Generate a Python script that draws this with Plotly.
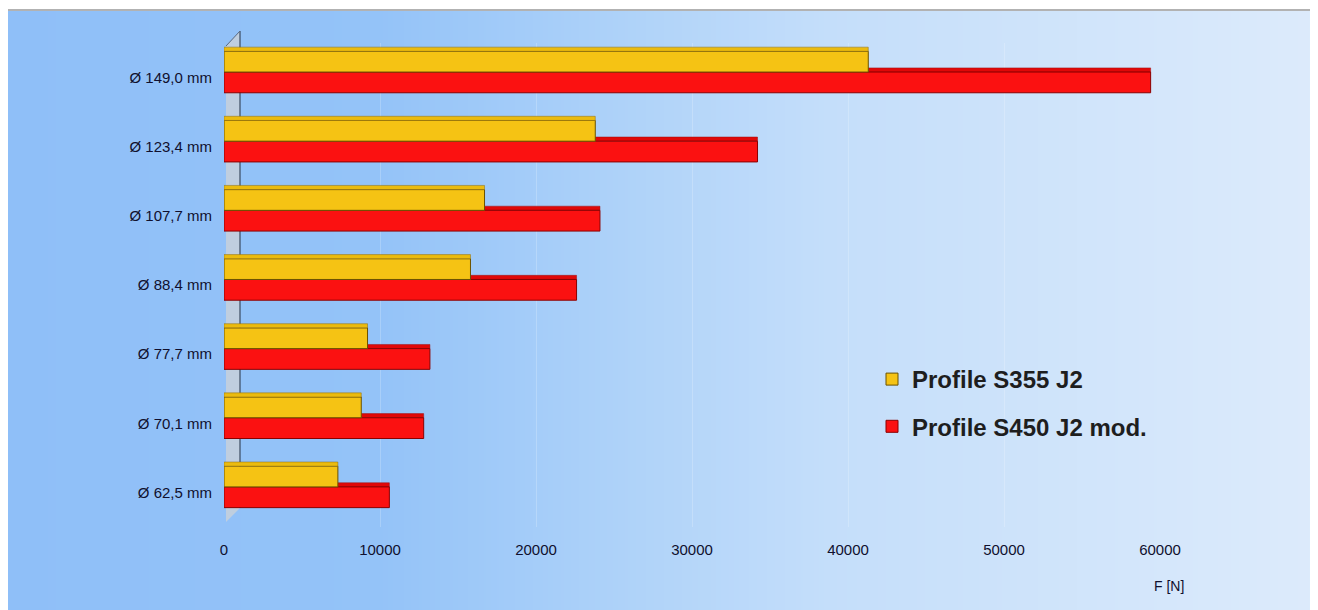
import base64
import struct
import zlib

import plotly.graph_objects as go

# ---------------- data ----------------
categories = ["Ø 62,5 mm", "Ø 70,1 mm", "Ø 77,7 mm", "Ø 88,4 mm",
              "Ø 107,7 mm", "Ø 123,4 mm", "Ø 149,0 mm"]
s355_values = [7300, 8800, 9200, 15800, 16700, 23800, 41300]
s450_values = [10600, 12800, 13200, 22600, 24100, 34200, 59400]
series_names = ["Profile S355 J2", "Profile S450 J2 mod."]
x_ticks = [0, 10000, 20000, 30000, 40000, 50000, 60000]
x_tick_labels = ["0", "10000", "20000", "30000", "40000", "50000", "60000"]
axis_title = "F [N]"

# ---------------- layout geometry ----------------
# the page body adds an 8px margin, so the figure is 8px smaller each way
W, H = 1310, 602
OFF = 8  # reference pixel -> figure pixel shift


def fx(px):
    return px - OFF


ML, MR, MT, MB = fx(224), W - fx(1160), fx(43), H - fx(527)
PW, PH = W - ML - MR, H - MT - MB


def px_to_paper_x(px):
    return (fx(px) - ML) / PW


def px_to_paper_y(py):
    return (H - MB - fx(py)) / PH


# ---------------- background gradient (PNG generated in memory) ----------------
grad_stops = [(0.0, (143, 191, 248)), (0.28, (148, 195, 248)),
              (0.45, (172, 209, 249)), (0.62, (196, 222, 250)),
              (1.0, (221, 235, 251))]


def grad_color(t):
    for (t0, c0), (t1, c1) in zip(grad_stops[:-1], grad_stops[1:]):
        if t0 <= t <= t1:
            f = (t - t0) / (t1 - t0)
            return tuple(int(round(a + (b - a) * f)) for a, b in zip(c0, c1))
    return grad_stops[-1][1]


def make_png(width):
    row = b"\x00" + b"".join(bytes(grad_color(i / (width - 1))) for i in range(width))
    raw = row * 2

    def chunk(tag, data):
        c = struct.pack(">I", len(data)) + tag + data
        return c + struct.pack(">I", zlib.crc32(tag + data) & 0xffffffff)

    png = b"\x89PNG\r\n\x1a\n"
    png += chunk(b"IHDR", struct.pack(">IIBBBBB", width, 2, 8, 2, 0, 0, 0))
    png += chunk(b"IDAT", zlib.compress(raw, 9))
    png += chunk(b"IEND", b"")
    return "data:image/png;base64," + base64.b64encode(png).decode()


bg_src = make_png(512)

# ---------------- figure ----------------
fig = go.Figure()

# red series: top face (mostly hidden behind the yellow bar) then front face
fig.add_trace(go.Bar(
    y=categories, x=s450_values, orientation="h", name=series_names[1] + " top",
    offset=0.08, width=0.06, showlegend=False, hoverinfo="skip",
    marker=dict(color="#e00808", line=dict(color="#9a1010", width=0.5)),
))
fig.add_trace(go.Bar(
    y=categories, x=s450_values, orientation="h", name=series_names[1],
    offset=-0.22, width=0.30,
    marker=dict(color="#fb1111", line=dict(color="#8a0000", width=1)),
    legendgroup="b", legendrank=2,
))
# yellow series: front face then top face
fig.add_trace(go.Bar(
    y=categories, x=s355_values, orientation="h", name=series_names[0],
    offset=0.08, width=0.30,
    marker=dict(color="#f5c314", line=dict(color="#6b5200", width=1)),
    legendgroup="a", legendrank=1,
))
fig.add_trace(go.Bar(
    y=categories, x=s355_values, orientation="h", name=series_names[0] + " top",
    offset=0.38, width=0.06, showlegend=False, hoverinfo="skip",
    marker=dict(color="#ebbb0e", line=dict(color="#8a6a10", width=0.5)),
))

fig.update_layout(
    width=W, height=H,
    margin=dict(l=ML, r=MR, t=MT, b=MB),
    paper_bgcolor="white",
    plot_bgcolor="rgba(0,0,0,0)",
    barmode="overlay",
    font=dict(family="Liberation Sans, Arial, sans-serif", color="#141433"),
    showlegend=True,
    legend=dict(
        x=px_to_paper_x(872), y=px_to_paper_y(357),
        xanchor="left", yanchor="top",
        bgcolor="rgba(0,0,0,0)",
        font=dict(size=24, family="Liberation Sans, Arial, sans-serif",
                  color="#1e1e1e", weight="bold"),
        tracegroupgap=13,
        traceorder="grouped",
    ),
    xaxis=dict(
        range=[0, 60000],
        tickvals=x_ticks, ticktext=x_tick_labels,
        showgrid=True, gridcolor="rgba(255,255,255,0.2)", gridwidth=1,
        zeroline=False, showline=False, ticks="",
        tickfont=dict(size=15, color="#10102e"),
        ticklabelstandoff=12,
        fixedrange=True,
    ),
    yaxis=dict(
        type="category", categoryorder="array", categoryarray=categories,
        range=[-0.5, len(categories) - 0.5],
        showgrid=False, zeroline=False, showline=False, ticks="",
        tickfont=dict(size=15, color="#10102e"),
        ticklabelstandoff=11,
        fixedrange=True,
    ),
    images=[dict(
        source=bg_src, xref="paper", yref="paper",
        x=px_to_paper_x(8), y=px_to_paper_y(10),
        sizex=(W + 10) / PW, sizey=(H + 10) / PH,
        xanchor="left", yanchor="top", sizing="stretch", layer="below",
    )],
    shapes=[
        # top border line of the chart frame
        dict(type="line", xref="paper", yref="paper",
             x0=px_to_paper_x(8), x1=px_to_paper_x(1330),
             y0=px_to_paper_y(10), y1=px_to_paper_y(10),
             line=dict(color="#b2b2b2", width=2), layer="below"),
        # 3D side wall
        dict(type="path", xref="paper", yref="paper",
             path=("M {a},{b} L {c},{d} L {c},{e} L {a},{f} Z").format(
                 a=px_to_paper_x(226), b=px_to_paper_y(46),
                 c=px_to_paper_x(240), d=px_to_paper_y(31),
                 e=px_to_paper_y(508), f=px_to_paper_y(522)),
             fillcolor="rgba(205,210,215,0.75)", line=dict(width=0),
             layer="below"),
        dict(type="line", xref="paper", yref="paper",
             x0=px_to_paper_x(240), x1=px_to_paper_x(240),
             y0=px_to_paper_y(508), y1=px_to_paper_y(31),
             line=dict(color="#3a4a60", width=1.2), layer="below"),
        dict(type="line", xref="paper", yref="paper",
             x0=px_to_paper_x(226), x1=px_to_paper_x(240),
             y0=px_to_paper_y(46), y1=px_to_paper_y(31),
             line=dict(color="#5a6a80", width=1), layer="below"),
    ],
    annotations=[dict(
        text=axis_title, xref="x", yref="paper",
        x=x_ticks[-1], y=px_to_paper_y(586), xshift=9,
        showarrow=False, font=dict(size=14, color="#10102e"),
        xanchor="center", yanchor="middle",
    )],
)

fig.write_html("out.html")
